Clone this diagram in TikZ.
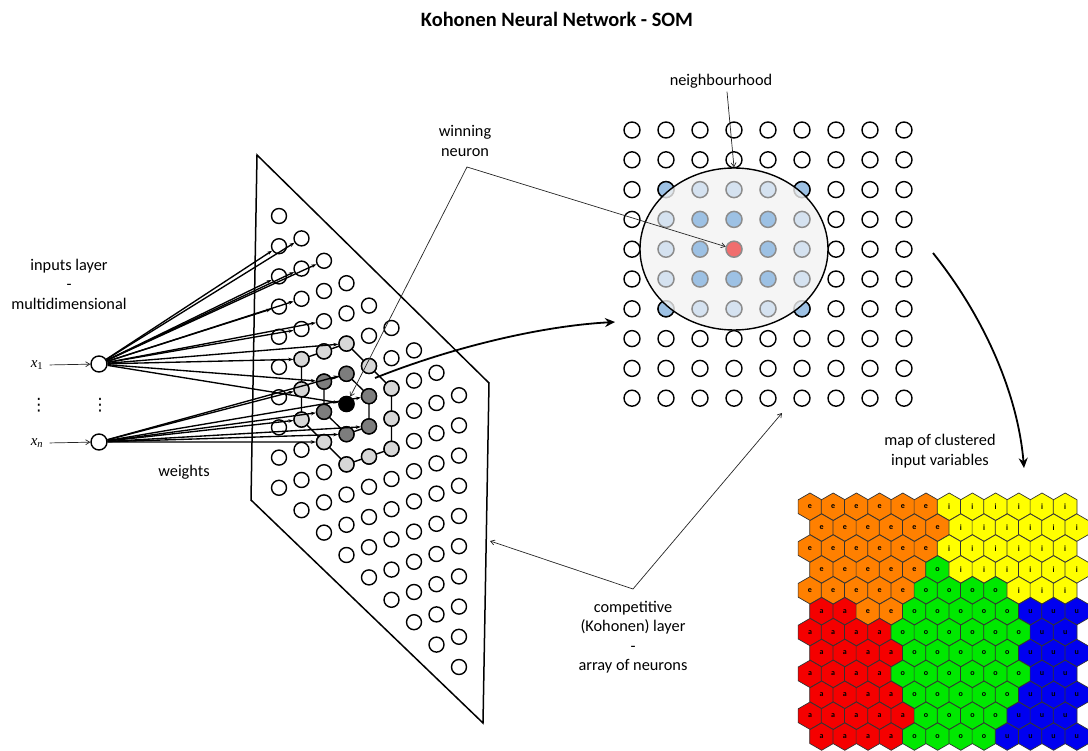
\documentclass[tikz,border=0pt]{standalone}
\usepackage{fontspec}
\setmainfont{Carlito}
\newfontfamily\timesfont{Liberation Serif}
\newfontfamily\dejavu{DejaVu Sans}
\usepackage{xcolor}
\usepackage{tikz}
\usetikzlibrary{arrows.meta, positioning, calc, shapes.geometric}

\definecolor{nearcol}{RGB}{125,125,125}
\definecolor{farcol}{RGB}{215,215,215}
\definecolor{bluemid}{RGB}{157,193,228}
\definecolor{bluelight}{RGB}{213,226,240}
\definecolor{winred}{RGB}{240,110,110}
\definecolor{hoodfill}{RGB}{243,243,243}
\definecolor{hexe}{RGB}{255,128,0}
\definecolor{hexi}{RGB}{255,255,0}
\definecolor{hexo}{RGB}{0,232,0}
\definecolor{hexa}{RGB}{245,0,0}
\definecolor{hexu}{RGB}{0,0,240}

\tikzset{
  neuron/.style={circle, draw, line width=1.4pt, minimum size=15pt, inner sep=0pt, fill=white},
  txt/.style={font=\fontsize{16.3}{19.5}\selectfont, align=center},
  weight/.style={line width=1.35pt, -{Stealth[length=5pt,width=3.5pt]}},
  thinarrow/.style={line width=0.7pt, black!85},
  bigarrow/.style={line width=1.8pt, -{Stealth[length=10pt,width=9pt]}},
  hexcell/.style={regular polygon, regular polygon sides=6, shape border rotate=30,
    minimum size=27.4pt, inner sep=0pt, draw=black!80, line width=0.7pt,
    font=\fontsize{8}{9}\selectfont\bfseries}
}

\begin{document}
\begin{tikzpicture}[x=1pt,y=-1pt]
  \useasboundingbox (0,0) rectangle (1088,751);

  % Title
  \node[font=\fontsize{20.4}{24}\selectfont\bfseries] (title) at (557,19) {Kohonen Neural Network - SOM};

  % Input layer
  \node[neuron, minimum size=16pt] (x1) at (99,364) {};
  \node[neuron, minimum size=16pt] (xn) at (99,442) {};
  \node[font=\fontsize{15}{18}\selectfont] (x1lbl) at (37,365) {{\timesfont\itshape x}{\timesfont\textsubscript{1}}};
  \node[font=\fontsize{15}{18}\selectfont] (xnlbl) at (37,443) {{\timesfont\itshape x\textsubscript{n}}};
  \node[font=\fontsize{17}{20}\dejavu, inner sep=0pt] (dotsa) at (39,405) {⋮};
  \node[font=\fontsize{17}{20}\dejavu, inner sep=0pt] (dotsb) at (100,405) {⋮};
  \draw[thinarrow, -{Straight Barb[length=4pt,width=5pt]}, shorten <=3pt] (x1lbl.east) -- (x1);
  \draw[thinarrow, -{Straight Barb[length=4pt,width=5pt]}, shorten <=3pt] (xnlbl.east) -- (xn);
  \node[txt] (inlbl) at (69,284) {inputs layer\\-\\multidimensional};
  \node[txt] (wlbl) at (184,472) {weights};

  % Kohonen layer (skewed plane)
  \draw[line width=1.5pt] (257,155) -- (489,383) -- (483,723) -- (251,500) -- cycle;
  \foreach \c in {0,...,8}
    \foreach \r in {0,...,9}
      \node[neuron] (l-\c-\r) at ({279+22.5*\c},{216+22.4*\c+30.2*\r}) {};

  % rings round the winner
  \draw[line width=1.4pt] (l-3-3.center) -- (l-4-3.center) -- (l-4-4.center) -- (l-3-5.center)
    -- (l-2-5.center) -- (l-2-4.center) -- cycle;
  \draw[line width=1.4pt] (l-3-2.center) -- (l-4-2.center) -- (l-5-2.center) -- (l-5-3.center)
    -- (l-5-4.center) -- (l-4-5.center) -- (l-3-6.center) -- (l-2-6.center) -- (l-1-6.center)
    -- (l-1-5.center) -- (l-1-4.center) -- (l-2-3.center) -- cycle;
  \foreach \p in {3-2,4-2,5-2,5-3,5-4,4-5,3-6,2-6,1-6,1-5,1-4,2-3}
    \filldraw[fill=farcol, line width=1.4pt] (l-\p.center) circle[radius=7.5pt];
  \foreach \p in {3-3,4-3,4-4,3-5,2-5,2-4}
    \filldraw[fill=nearcol, line width=1.4pt] (l-\p.center) circle[radius=7.5pt];
  \filldraw[fill=black, line width=1.4pt] (l-3-4.center) circle[radius=7.5pt];

  % weights
  \foreach \t in {0-1,0-2,0-3,1-0,1-1,1-2,1-3,1-4,2-0,2-2,2-4,3-2,3-4}
    \draw[weight] (x1) -- (l-\t);
  \foreach \t in {1-5,1-6,2-5,2-6,3-3,3-5,4-3,4-4}
    \draw[weight] (xn) -- (l-\t);

  % Output grid with neighbourhood
  \foreach \c in {0,...,8}
    \foreach \r in {0,...,9}
      \node[neuron, minimum size=16pt] (r-\c-\r) at ({632+34*\c},{130+29.8*\r}) {};
  \foreach \p in {1-2,5-2,1-6,5-6}
    \filldraw[fill=bluemid, line width=1.4pt] (r-\p.center) circle[radius=8pt];
  \node[ellipse, draw, line width=1.4pt, fill=hoodfill, fill opacity=0.8,
    minimum width=188pt, minimum height=162pt, inner sep=0pt] (hood) at (734,249) {};
  \foreach \p in {2-2,3-2,4-2,1-3,5-3,1-4,5-4,1-5,5-5,2-6,3-6,4-6}
    \filldraw[fill=bluelight, draw=black!45, line width=1.4pt] (r-\p.center) circle[radius=8pt];
  \foreach \p in {2-3,3-3,4-3,2-4,4-4,2-5,3-5,4-5}
    \filldraw[fill=bluemid, draw=black!45, line width=1.4pt] (r-\p.center) circle[radius=8pt];
  \filldraw[fill=winred, draw=black!45, line width=1.4pt] (r-3-4.center) circle[radius=8pt];

  \node[txt] (hoodlbl) at (721,81) {neighbourhood};
  \draw[thinarrow, -{Straight Barb[length=4pt,width=5pt]}] ($(hoodlbl.south)+(6,0)$) -- (hood.north);

  % winning neuron
  \node[txt] (winlbl) at (465,141) {winning\\neuron};
  \coordinate (winbend) at (467,167);
  \draw[thinarrow, {Straight Barb[length=4pt,width=5pt]}-{Straight Barb[length=4pt,width=5pt]}]
    (l-3-4) -- (winbend) -- (r-3-4);

  % competitive layer
  \node[txt] (complbl) at (633,637) {competitive\\(Kohonen) layer\\-\\array of neurons};
  \coordinate (panelpt) at (490,541);
  \coordinate (compbend) at (633,589);
  \coordinate (gridpt) at (782,413);
  \draw[thinarrow, {Straight Barb[length=4pt,width=5pt]}-{Straight Barb[length=4pt,width=5pt]}]
    (panelpt) -- (compbend) -- (gridpt);

  % big arrows
  \coordinate (selout) at (375,378);
  \coordinate (gridin) at (615,322);
  \draw[bigarrow] (selout) .. controls (450,348) and (540,326) .. (gridin);
  \coordinate (mapout) at (933,253);
  \coordinate (mapin) at (1024,468);
  \draw[bigarrow] (mapout) .. controls (985,318) and (1018,395) .. (mapin);

  % Clustered map
  \node[txt] (maplbl) at (940,451) {map of clustered\\input variables};
  \foreach \rowlist [count=\i from 0] in {
      {e,e,e,e,e,e,i,i,i,i,i,i},
      {e,e,e,e,e,e,i,i,i,i,i,i},
      {e,e,e,e,e,e,i,i,i,i,i,i},
      {e,e,e,e,e,o,i,i,i,i,i,i},
      {e,e,e,e,e,o,o,o,o,i,i,i},
      {a,a,e,e,o,o,o,o,o,u,u,u},
      {a,a,a,a,o,o,o,o,o,o,u,u},
      {a,a,a,a,o,o,o,o,o,u,u,u},
      {a,a,a,a,o,o,o,o,o,o,u,u},
      {a,a,a,a,o,o,o,o,o,u,u,u},
      {a,a,a,a,a,o,o,o,o,u,u,u},
      {a,a,a,a,o,o,o,o,u,u,u,u}} {
    \foreach \l [count=\j from 0] in \rowlist {
      \pgfmathsetmacro\hx{810+23.2*\j+11.6*mod(\i,2)}
      \pgfmathsetmacro\hy{506.7+20.9*\i}
      \node[hexcell, fill=hex\l] (h-\i-\j) at (\hx,\hy) {\l};
    }
  }
\end{tikzpicture}
\end{document}
